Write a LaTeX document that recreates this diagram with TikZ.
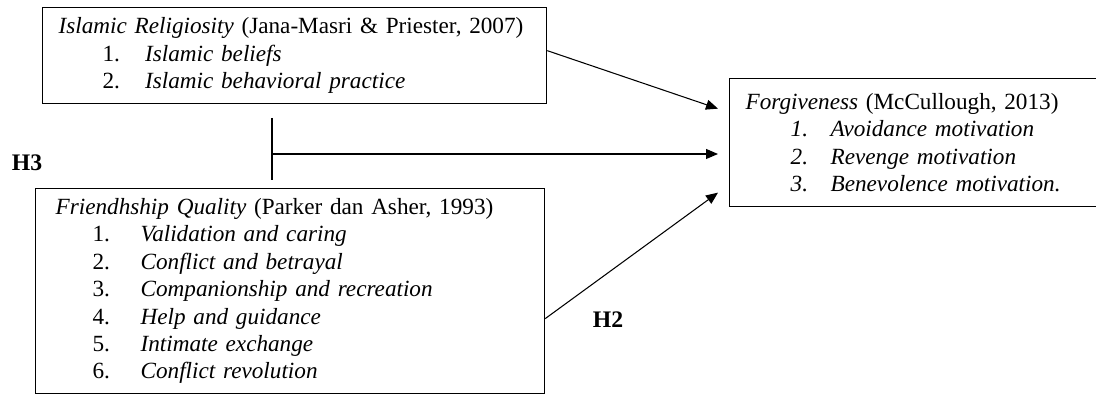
\documentclass[tikz,border=0pt]{standalone}
\usepackage{fontspec}
\setmainfont{Liberation Serif}
\usetikzlibrary{arrows.meta}

\newcommand{\numitem}[4][0.85cm]{\\\hspace*{#2}\makebox[#1][l]{#3}\textit{#4}}

\begin{document}
\begin{tikzpicture}[
  x=0.02cm, y=-0.02cm,
  box/.style={draw, line width=0.75pt, align=left, anchor=north west, inner ysep=0pt, font=\fontsize{13.2}{15.6}\selectfont},
  arrow/.style={-{Triangle[length=0.24cm, width=0.2cm]}, line width=0.6pt},
  hypo/.style={font=\fontsize{13.5}{15}\selectfont\bfseries}
]
\useasboundingbox (0,0) rectangle (1096,394);

\node[box, text width=9.44cm, inner xsep=0.32cm, minimum height=1.92cm] (relig) at (42,7)
  {\textit{Islamic Religiosity} (Jana-Masri \& Priester, 2007)
   \numitem{0.88cm}{1.}{Islamic beliefs}
   \numitem{0.88cm}{2.}{Islamic behavioral practice}};

\node[box, text width=9.38cm, inner xsep=0.4cm, minimum height=4.1cm] (friend) at (35,188)
  {\textit{Friendhship Quality} (Parker dan Asher, 1993)
   \numitem[0.96cm]{0.74cm}{1.}{Validation and caring}
   \numitem[0.96cm]{0.74cm}{2.}{Conflict and betrayal}
   \numitem[0.96cm]{0.74cm}{3.}{Companionship and recreation}
   \numitem[0.96cm]{0.74cm}{4.}{Help and guidance}
   \numitem[0.96cm]{0.74cm}{5.}{Intimate exchange}
   \numitem[0.96cm]{0.74cm}{6.}{Conflict revolution}};

\node[box, text width=6.84cm, inner xsep=0.32cm, minimum height=2.56cm] (forgive) at (729,78)
  {\textit{Forgiveness} (McCullough, 2013)
   \numitem[0.8cm]{0.9cm}{\textit{1.}}{Avoidance motivation}
   \numitem[0.8cm]{0.9cm}{\textit{2.}}{Revenge motivation}
   \numitem[0.8cm]{0.9cm}{\textit{3.}}{Benevolence motivation.}};

% moderator line
\coordinate (modtop) at (272,118);
\coordinate (modbot) at (272,180);
\coordinate (modjoin) at (272,154);
\draw[line width=0.6pt] (modtop) -- (modbot);

\draw[arrow] ([yshift=0.1cm]relig.east) -- ([xshift=-0.22cm, yshift=0.68cm]forgive.west);
\draw[arrow] (modjoin) -- ([xshift=-0.22cm]modjoin -| forgive.west);
\draw[arrow] ([yshift=-0.55cm]friend.east) -- ([xshift=-0.22cm, yshift=-1.0cm]forgive.west);

\node[hypo] (h3) at (27,163) {H3};
\node[hypo] (h2) at (608,320) {H2};
\end{tikzpicture}
\end{document}
